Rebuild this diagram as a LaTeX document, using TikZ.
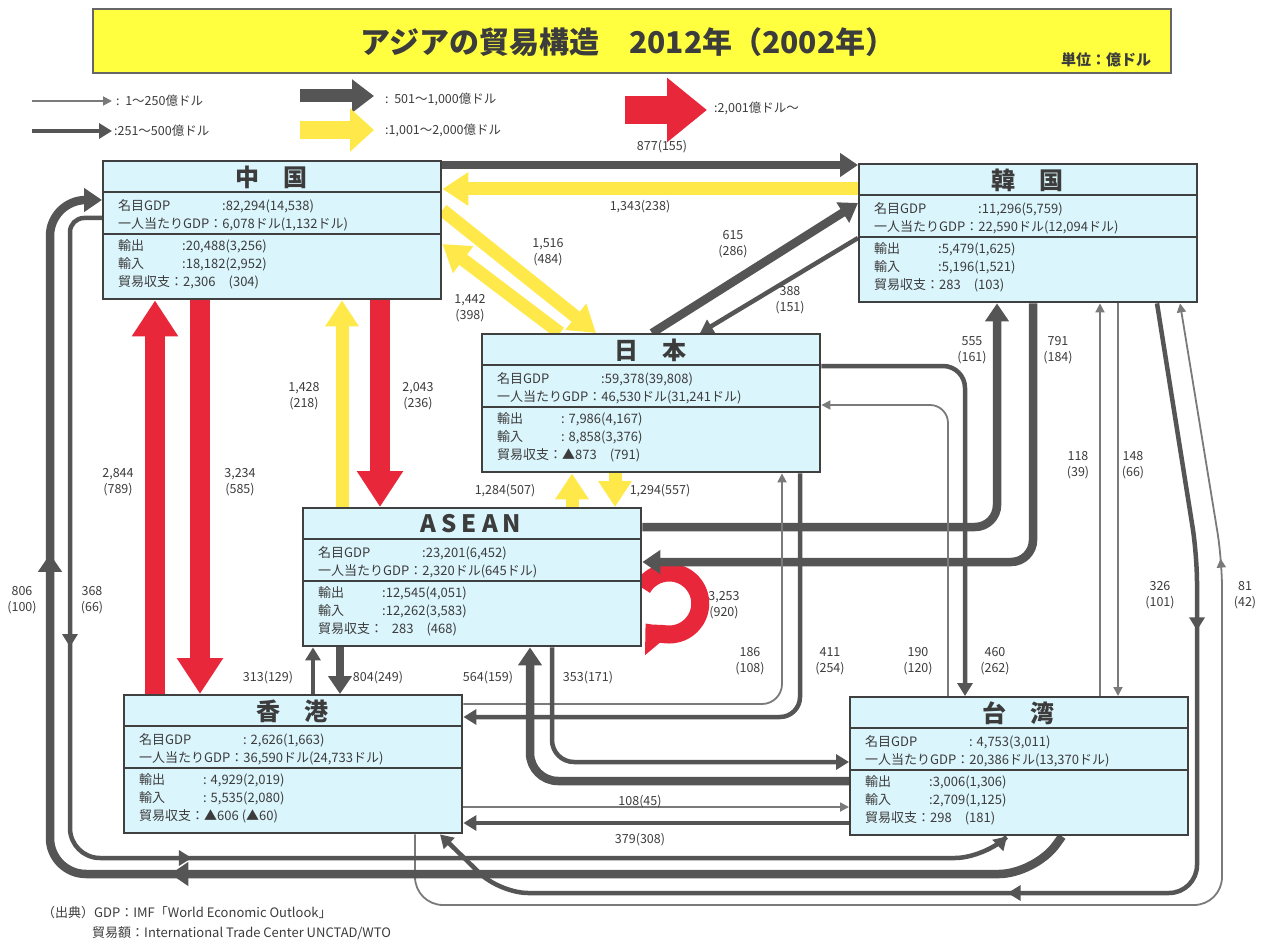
\documentclass[tikz,border=0pt]{standalone}
\usepackage{fontspec}
\setmainfont{Noto Sans CJK JP}
\usetikzlibrary{arrows.meta,decorations.markings}
\pgfdeclarelayer{back}
\pgfdeclarelayer{lines}
\pgfsetlayers{back,lines,main}
\definecolor{dk}{HTML}{555555}
\definecolor{th}{HTML}{7A7A7A}
\definecolor{yl}{HTML}{FFE94A}
\definecolor{rd}{HTML}{E8283A}
\definecolor{bx}{HTML}{DBF5FC}
\definecolor{tx}{HTML}{3C3C3C}
\definecolor{bd}{HTML}{404040}
\definecolor{ttl}{HTML}{FFFF40}
\tikzset{
  thinA/.style={color=th, line width=1.8pt, -{Triangle[width=9pt,length=9pt]}},
  medA/.style={color=dk, line width=4.5pt, -{Triangle[width=15pt,length=13pt]}},
  thkA/.style={color=dk, line width=8.5pt, -{Triangle[width=23pt,length=18pt]}},
  ylA/.style={color=yl, line width=13pt, -{Triangle[width=32pt,length=26pt]}},
  rdA/.style={color=rd, line width=20pt, -{Triangle[width=44pt,length=36pt]}},
  midthin/.style={postaction={decorate,decoration={markings,mark=at position #1 with {\arrow{Triangle[width=9pt,length=9pt]}}}}},
  midmed/.style={postaction={decorate,decoration={markings,mark=at position #1 with {\arrow{Triangle[width=15pt,length=13pt]}}}}},
  midthk/.style={postaction={decorate,decoration={markings,mark=at position #1 with {\arrow{Triangle[width=23pt,length=18pt]}}}}},
  cbox/.style={draw=bd, line width=2.4pt, fill=bx, minimum width=338pt, minimum height=138pt, inner sep=0pt, anchor=north west},
  sepl/.style={draw=bd, line width=1.4pt},
  hdr/.style={font=\fontsize{24}{24}\selectfont\bfseries, text=tx, inner sep=0pt},
  rowt/.style={anchor=west, inner sep=0pt, font=\fontsize{13}{13}\selectfont, text=tx},
  lbl/.style={font=\fontsize{12.5}{16}\selectfont, text=tx, align=center, inner sep=0pt},
  leg/.style={anchor=west, font=\fontsize{12.5}{13}\selectfont, text=tx, inner sep=0pt},
}
\newcommand{\CBox}[9]{%
\begin{scope}[shift={(#2,#3)}]
\node[cbox] (#1) at (0,0) {};
\draw[sepl] (0,32) -- (338,32);
\draw[sepl] (0,74) -- (338,74);
\node[hdr] (#1h) at (169,17) {#4};
\node[rowt] (#1a) at (16,46) {名目GDP};
\node[rowt] (#1b) at (120,46) {#5};
\node[rowt] (#1c) at (16,64) {一人当たりGDP：#6};
\node[rowt] (#1d) at (16,86) {輸出};
\node[rowt] (#1e) at (80,86) {#7};
\node[rowt] (#1f) at (16,104) {輸入};
\node[rowt] (#1g) at (80,104) {#8};
\node[rowt] (#1i) at (16,122) {貿易収支：#9};
\end{scope}}
\begin{document}
\begin{tikzpicture}[x=1pt,y=-1pt]
\useasboundingbox (0,0) rectangle (1269,941);
\begin{pgfonlayer}{back}
\fill[white] (0,0) rectangle (1269,941);
\end{pgfonlayer}

% title
\node[draw=bd!80, line width=1.6pt, fill=ttl, minimum width=1078pt, minimum height=64pt, anchor=north west, inner sep=0pt] (title) at (92,8) {};
\node[font=\fontsize{30}{30}\selectfont\bfseries, text=tx, inner sep=0pt] (ttltxt) at (628,42) {アジアの貿易構造　2012年（2002年）};
\node[font=\fontsize{15}{15}\selectfont\bfseries, text=tx, inner sep=0pt] (unit) at (1106,60) {単位：億ドル};

% legend
\coordinate (lg1a) at (32,101); \coordinate (lg1b) at (112,101);
\coordinate (lg2a) at (32,131); \coordinate (lg2b) at (112,131);
\coordinate (lg3a) at (300,96); \coordinate (lg3b) at (374,96);
\coordinate (lg4a) at (300,130); \coordinate (lg4b) at (374,130);
\coordinate (lg5a) at (625,110); \coordinate (lg5b) at (707,110);
\draw[thinA] (lg1a) -- (lg1b);
\draw[medA] (lg2a) -- (lg2b);
\draw[color=dk, line width=13pt, -{Triangle[width=32pt,length=22pt]}] (lg3a) -- (lg3b);
\draw[color=yl, line width=18pt, -{Triangle[width=42pt,length=24pt]}] (lg4a) -- (lg4b);
\draw[color=rd, line width=28pt, -{Triangle[width=62pt,length=40pt]}] (lg5a) -- (lg5b);
\node[leg] (lt1) at (116,101) {:\ \ 1～250億ドル};
\node[leg] (lt2) at (114,131) {:251～500億ドル};
\node[leg] (lt3) at (385,99) {:\ \ 501～1,000億ドル};
\node[leg] (lt4) at (385,130) {:1,001～2,000億ドル};
\node[leg] (lt5) at (714,108) {:2,001億ドル～};

% boxes
\CBox{cn}{102}{160}{中　国}{:82,294(14,538)}{6,078ドル(1,132ドル)}{:20,488(3,256)}{:18,182(2,952)}{2,306　(304)}
\CBox{kr}{858}{163}{韓　国}{:11,296(5,759)}{22,590ドル(12,094ドル)}{:5,479(1,625)}{:5,196(1,521)}{283　(103)}
\CBox{jp}{481}{333}{日　本}{:59,378(39,808)}{46,530ドル(31,241ドル)}{: 7,986(4,167)}{: 8,858(3,376)}{▲873　(791)}
\CBox{as}{302}{507}{A\hspace{5pt}S\hspace{5pt}E\hspace{5pt}A\hspace{5pt}N}{:23,201(6,452)}{2,320ドル(645ドル)}{:12,545(4,051)}{:12,262(3,583)}{\ \ \ 283　(468)}
\CBox{hk}{123}{694}{香　港}{: 2,626(1,663)}{36,590ドル(24,733ドル)}{: 4,929(2,019)}{: 5,535(2,080)}{▲606 (▲60)}
\CBox{tw}{849}{696}{台　湾}{: 4,753(3,011)}{20,386ドル(13,370ドル)}{:3,006(1,306)}{:2,709(1,125)}{298　(181)}

% connectors
\begin{pgfonlayer}{lines}
% China - Korea
\draw[thkA] (cn.east |- 0,165) -- (kr.west |- 0,165);
\draw[ylA] (kr.west |- 0,189) -- (cn.east |- 0,189);
% China - Japan
\draw[ylA] (cn.east |- 0,210) -- (596,0 |- jp.north);
\draw[ylA] (560,0 |- jp.north) -- (cn.east |- 0,244);
% Japan - Korea
\draw[thkA] (652,0 |- jp.north) -- (kr.west |- 0,203);
\draw[medA] (kr.west |- 0,238) -- (700,0 |- jp.north);
% China - ASEAN
\draw[rdA] (380,0 |- cn.south) -- (380,0 |- as.north);
\draw[ylA] (342,0 |- as.north) -- (342,0 |- cn.south);
% China - Hong Kong
\draw[rdA] (155,0 |- hk.north) -- (155,0 |- cn.south);
\draw[rdA] (200,0 |- cn.south) -- (200,0 |- hk.north);
% Japan - ASEAN
\draw[ylA] (615,0 |- jp.south) -- (615,0 |- as.north);
\draw[ylA] (572,0 |- as.north) -- (572,0 |- jp.south);
% ASEAN self
\draw[color=rd, line width=18pt, -{Triangle[width=40pt,length=24pt]}] (as.east |- 0,588) arc[start angle=-150, end angle=140, radius=31];
% ASEAN - Korea
\draw[thkA, rounded corners=22pt] (as.east |- 0,527) -- (997,527) -- (997,0 |- kr.south);
\draw[thkA, rounded corners=22pt] (1033,0 |- kr.south) -- (1033,562) -- (as.east |- 0,562);
% Japan - Taiwan
\draw[medA, rounded corners=22pt] (jp.east |- 0,366) -- (965,366) -- (965,0 |- tw.north);
\draw[thinA, rounded corners=18pt] (948,0 |- tw.north) -- (948,405) -- (jp.east |- 0,405);
% Korea - Taiwan
\draw[thinA] (1100,0 |- tw.north) -- (1100,0 |- kr.south);
\draw[thinA] (1118,0 |- kr.south) -- (1118,0 |- tw.north);
% Korea - Hong Kong
\draw[medA, rounded corners=28pt, midmed=330pt, midmed=770pt] (1157,0 |- kr.south) -- (1197,555) -- (1197,893) -- (500,893) -- (440,0 |- hk.south);
\draw[thinA, rounded corners=28pt, midthin=1200pt] (415,0 |- hk.south) -- (415,905) -- (1222,905) -- (1222,560) -- (1180,0 |- kr.south);
% China - Taiwan
\draw[thkA, midthk=905pt, midthk=1330pt] (1062,0 |- tw.south) [rounded corners=36pt] -- (1035,874) -- (50,874) -- (50,200) [rounded corners=15pt] -- (cn.west |- 0,200);
\draw[medA, midmed=455pt, midmed=775pt] (cn.west |- 0,218) [rounded corners=14pt] -- (70,218) [rounded corners=30pt] -- (70,858) -- (985,858) -- (1007,0 |- tw.south);
% Hong Kong - Japan
\draw[thinA, rounded corners=20pt] (hk.east |- 0,704) -- (782,704) -- (782,0 |- jp.south);
\draw[medA, rounded corners=20pt] (800,0 |- jp.south) -- (800,717) -- (hk.east |- 0,717);
% Hong Kong - ASEAN
\draw[medA] (313,0 |- hk.north) -- (313,0 |- as.south);
\draw[thkA] (340,0 |- as.south) -- (340,0 |- hk.north);
% ASEAN - Taiwan
\draw[thkA, rounded corners=28pt] (tw.west |- 0,781) -- (530,781) -- (530,0 |- as.south);
\draw[medA, rounded corners=22pt] (552,0 |- as.south) -- (552,762) -- (tw.west |- 0,762);
% Hong Kong - Taiwan
\draw[thinA] (hk.east |- 0,807) -- (tw.west |- 0,807);
\draw[medA] (tw.west |- 0,823) -- (hk.east |- 0,823);
\end{pgfonlayer}

% labels
\node[lbl] (n877) at (662,147) {877(155)};
\node[lbl] (n1343) at (640,207) {1,343(238)};
\node[lbl] (n1516) at (548,252) {1,516\\(484)};
\node[lbl] (n1442) at (470,308) {1,442\\(398)};
\node[lbl] (n615) at (733,244) {615\\(286)};
\node[lbl] (n388) at (790,300) {388\\(151)};
\node[lbl] (n1428) at (304,396) {1,428\\(218)};
\node[lbl] (n2043) at (418,396) {2,043\\(236)};
\node[lbl] (n2844) at (118,482) {2,844\\(789)};
\node[lbl] (n3234) at (240,482) {3,234\\(585)};
\node[lbl] (n1284) at (505,491) {1,284(507)};
\node[lbl] (n1294) at (660,491) {1,294(557)};
\node[lbl] (n3253) at (724,605) {3,253\\(920)};
\node[lbl] (n555) at (972,350) {555\\(161)};
\node[lbl] (n791) at (1058,350) {791\\(184)};
\node[lbl] (n118) at (1078,465) {118\\(39)};
\node[lbl] (n148) at (1133,465) {148\\(66)};
\node[lbl] (n326) at (1160,595) {326\\(101)};
\node[lbl] (n81) at (1245,595) {81\\(42)};
\node[lbl] (n806) at (22,600) {806\\(100)};
\node[lbl] (n368) at (92,600) {368\\(66)};
\node[lbl] (n186) at (750,661) {186\\(108)};
\node[lbl] (n411) at (830,661) {411\\(254)};
\node[lbl] (n190) at (918,661) {190\\(120)};
\node[lbl] (n460) at (995,661) {460\\(262)};
\node[lbl] (n313) at (268,678) {313(129)};
\node[lbl] (n804) at (378,678) {804(249)};
\node[lbl] (n564) at (488,678) {564(159)};
\node[lbl] (n353) at (588,678) {353(171)};
\node[lbl] (n108) at (640,802) {108(45)};
\node[lbl] (n379) at (640,840) {379(308)};

% sources
\node[leg, font=\fontsize{13}{14}\selectfont] (src1) at (42,913) {（出典）GDP：IMF「World Economic Outlook」};
\node[leg, font=\fontsize{13}{14}\selectfont] (src2) at (92,933) {貿易額：International Trade Center UNCTAD/WTO};
\end{tikzpicture}
\end{document}
